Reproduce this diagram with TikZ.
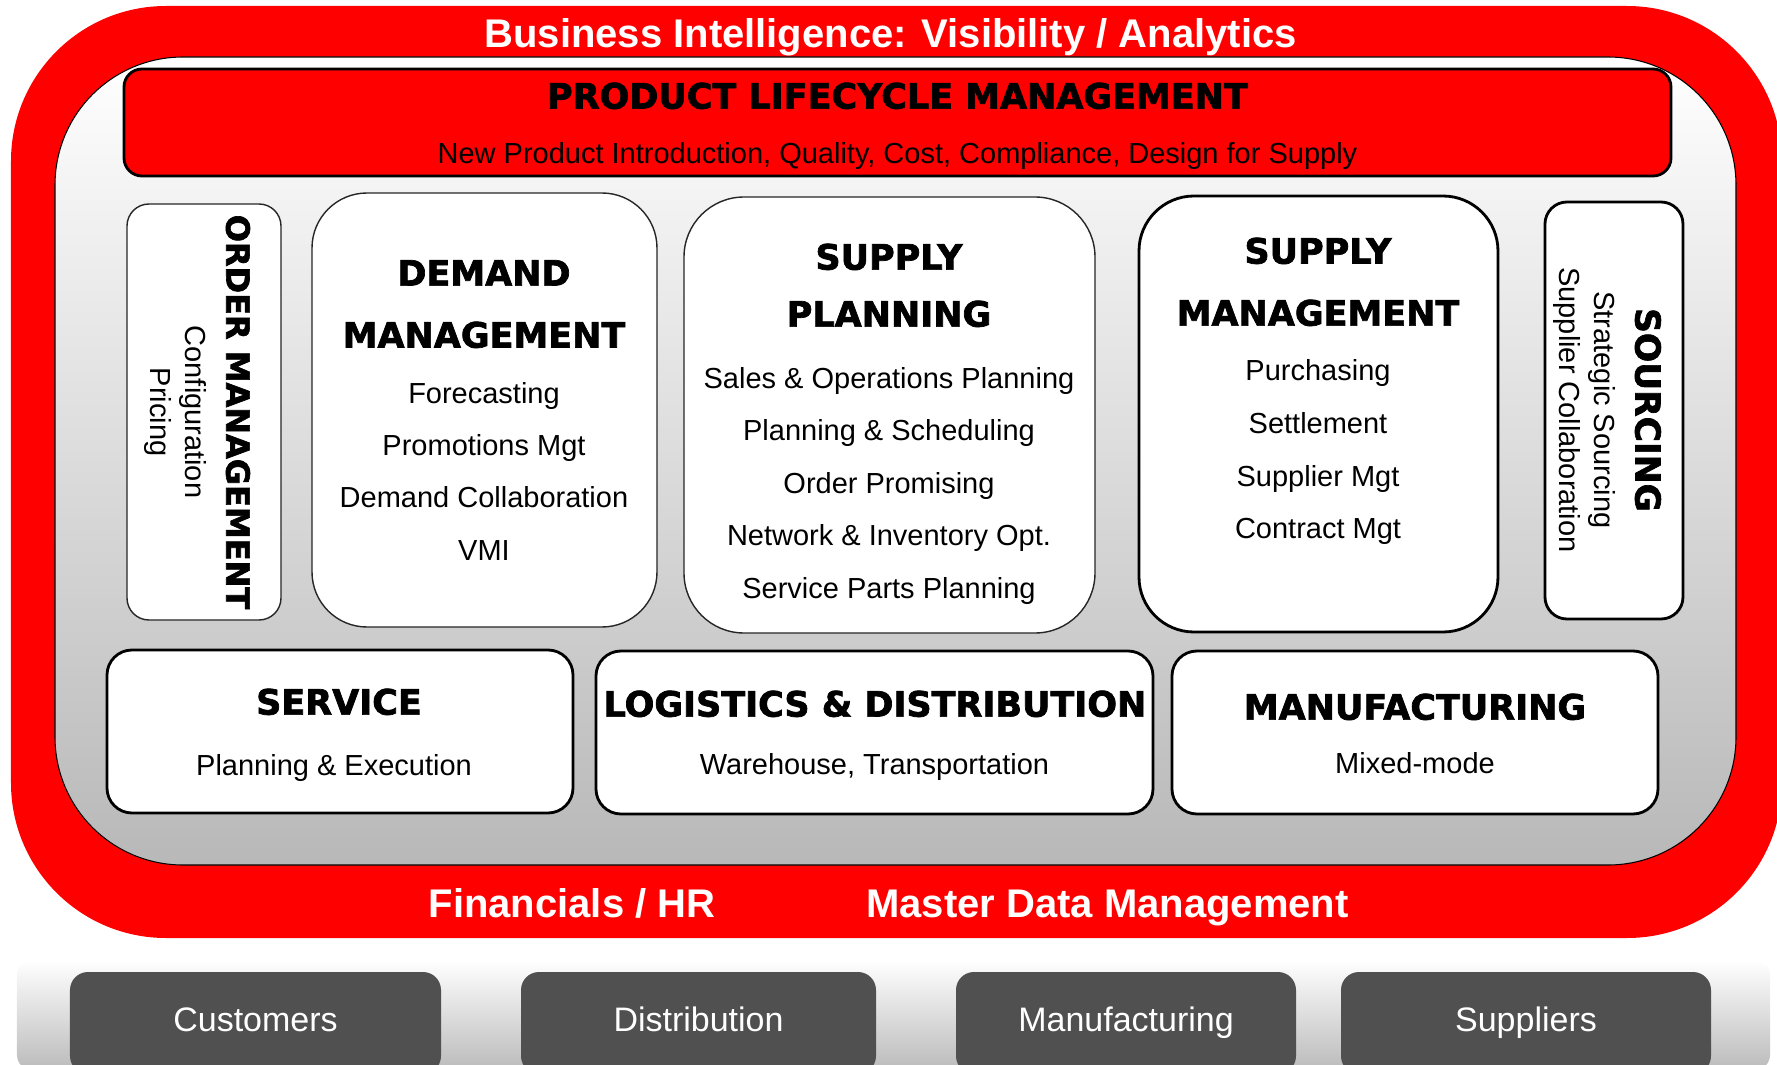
\documentclass[tikz,border=0pt]{standalone}
\usepackage{xcolor}
\usepackage{fontspec}
\setmainfont{Liberation Sans}
\newfontfamily\heavyfont{DejaVu Sans}[UprightFont={* Bold},FakeBold=2]
\usepackage{tikz}
\definecolor{BIred}{HTML}{FF0000}
\definecolor{PanelGray}{HTML}{B8B8B8}
\definecolor{BandGray}{HTML}{BBBBBB}
\definecolor{SiteGray}{HTML}{505050}
\tikzset{
  ring/.style={fill=BIred, rounded corners=1.55cm, inner sep=0pt},
  panel/.style={draw=black, line width=0.3pt, top color=white, bottom color=PanelGray, rounded corners=1.28cm, inner sep=0pt},
  plmbox/.style={draw=black, line width=0.8pt, fill=BIred, rounded corners=0.18cm, inner sep=0pt},
  modbox/.style={draw=black!85, line width=0.4pt, fill=white, inner sep=0pt},
  boldbox/.style={draw=black, line width=0.8pt, fill=white, inner sep=0pt},
  band/.style={top color=white, bottom color=BandGray, rounded corners=0.15cm, inner sep=0pt},
  sitebox/.style={fill=SiteGray, rounded corners=0.18cm, inner sep=0pt, text height=0.243cm, text depth=0.07cm, text=white, font=\fontsize{9.67}{11}\selectfont},
  headtxt/.style={anchor=base, inner sep=0pt, font=\heavyfont\fontsize{9.95}{12}\selectfont},
  itemtxt/.style={anchor=base, inner sep=0pt, font=\fontsize{8.25}{10}\selectfont},
  bandtxt/.style={anchor=base, inner sep=0pt, text=white, font=\bfseries\fontsize{11.38}{13}\selectfont}
}

\begin{document}
\begin{tikzpicture}%
\useasboundingbox (0,0) rectangle (17.77, 10.64);%
% frame
\node[ring, minimum width=17.71cm, minimum height=9.32cm] (bi) at (8.965, 5.920) {};%
\node[panel, minimum width=16.81cm, minimum height=8.08cm] (core) at (8.955, 6.030) {};%
\node[bandtxt] (bititle) at (8.906, 10.167) {Business Intelligence: Visibility / Analytics};%
\node[bandtxt] (fin) at (5.720, 1.467) {Financials / HR};%
\node[bandtxt] (mdm) at (11.075, 1.467) {Master Data Management};%
% product lifecycle
\node[plmbox, minimum width=15.47cm, minimum height=1.07cm] (plm) at (8.975, 9.415) {};%
\node[headtxt] (plmH) at (8.975, 9.554) {PRODUCT LIFECYCLE MANAGEMENT};%
\node[itemtxt] (plmI) at (8.975, 9.006) {New Product Introduction, Quality, Cost, Compliance, Design for Supply};%
% middle row
\node[modbox, rounded corners=0.22cm, minimum width=1.54cm, minimum height=4.16cm] (ord) at (2.040, 6.520) {};%
\node[headtxt, rotate=-90, font=\heavyfont\fontsize{9.1}{11}\selectfont] (ordH) at (2.263, 6.520) {ORDER MANAGEMENT};%
\node[itemtxt, rotate=-90] (ordI1) at (1.856, 6.520) {Configuration};%
\node[itemtxt, rotate=-90] (ordI2) at (1.506, 6.520) {Pricing};%
\node[modbox, rounded corners=0.55cm, minimum width=3.45cm, minimum height=4.34cm] (dem) at (4.845, 6.540) {};%
\node[headtxt] (demH1) at (4.840, 7.784) {DEMAND};%
\node[headtxt] (demH2) at (4.840, 7.164) {MANAGEMENT};%
\node[itemtxt] (demI1) at (4.840, 6.606) {Forecasting};%
\node[itemtxt] (demI2) at (4.840, 6.086) {Promotions Mgt};%
\node[itemtxt] (demI3) at (4.840, 5.566) {Demand Collaboration};%
\node[itemtxt] (demI4) at (4.840, 5.036) {VMI};%
\node[modbox, rounded corners=0.60cm, minimum width=4.11cm, minimum height=4.36cm] (spl) at (8.895, 6.490) {};%
\node[headtxt] (splH1) at (8.890, 7.944) {SUPPLY};%
\node[headtxt] (splH2) at (8.890, 7.374) {PLANNING};%
\node[itemtxt] (splI1) at (8.890, 6.756) {Sales \& Operations Planning};%
\node[itemtxt] (splI2) at (8.890, 6.231) {Planning \& Scheduling};%
\node[itemtxt] (splI3) at (8.890, 5.706) {Order Promising};%
\node[itemtxt] (splI4) at (8.890, 5.181) {Network \& Inventory Opt.};%
\node[itemtxt] (splI5) at (8.890, 4.656) {Service Parts Planning};%
\node[boldbox, rounded corners=0.55cm, minimum width=3.59cm, minimum height=4.36cm] (smg) at (13.185, 6.500) {};%
\node[headtxt] (smgH1) at (13.180, 8.004) {SUPPLY};%
\node[headtxt] (smgH2) at (13.180, 7.384) {MANAGEMENT};%
\node[itemtxt] (smgI1) at (13.180, 6.836) {Purchasing};%
\node[itemtxt] (smgI2) at (13.180, 6.306) {Settlement};%
\node[itemtxt] (smgI3) at (13.180, 5.776) {Supplier Mgt};%
\node[itemtxt] (smgI4) at (13.180, 5.256) {Contract Mgt};%
\node[boldbox, rounded corners=0.22cm, minimum width=1.38cm, minimum height=4.17cm] (src) at (16.140, 6.535) {};%
\node[headtxt, rotate=-90, font=\heavyfont\fontsize{9.8}{12}\selectfont] (srcH) at (16.354, 6.540) {SOURCING};%
\node[itemtxt, rotate=-90] (srcI1) at (15.946, 6.540) {Strategic Sourcing};%
\node[itemtxt, rotate=-90] (srcI2) at (15.596, 6.540) {Supplier Collaboration};%
% lower row
\node[boldbox, rounded corners=0.25cm, minimum width=4.66cm, minimum height=1.63cm] (svc) at (3.400, 3.325) {};%
\node[headtxt] (svcH) at (3.390, 3.494) {SERVICE};%
\node[itemtxt] (svcI) at (3.340, 2.886) {Planning \& Execution};%
\node[boldbox, rounded corners=0.25cm, minimum width=5.57cm, minimum height=1.63cm] (log) at (8.745, 3.315) {};%
\node[headtxt] (logH) at (8.750, 3.474) {LOGISTICS \& DISTRIBUTION};%
\node[itemtxt] (logI) at (8.745, 2.896) {Warehouse, Transportation};%
\node[boldbox, rounded corners=0.25cm, minimum width=4.86cm, minimum height=1.63cm] (mfg) at (14.150, 3.315) {};%
\node[headtxt] (mfgH) at (14.150, 3.444) {MANUFACTURING};%
\node[itemtxt] (mfgI) at (14.150, 2.906) {Mixed-mode};%
% trading partners
\node[band, minimum width=17.53cm, minimum height=1.10cm] (partners) at (8.935, 0.490) {};%
\node[sitebox, minimum width=3.71cm, minimum height=1.02cm] (cust) at (2.555, 0.410) {Customers};%
\node[sitebox, minimum width=3.55cm, minimum height=1.02cm] (dist) at (6.985, 0.410) {Distribution};%
\node[sitebox, minimum width=3.40cm, minimum height=1.02cm] (mfgsite) at (11.260, 0.410) {Manufacturing};%
\node[sitebox, minimum width=3.70cm, minimum height=1.02cm] (supp) at (15.260, 0.410) {Suppliers};%
\end{tikzpicture}
\end{document}
